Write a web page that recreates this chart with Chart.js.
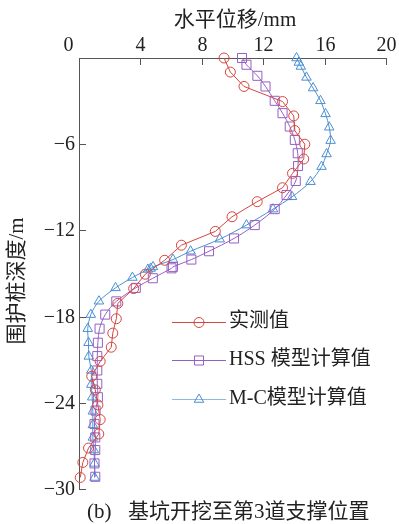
<!DOCTYPE html>
<html>
<head>
<meta charset="utf-8">
<script src="https://cdn.jsdelivr.net/npm/chart.js@4.4.1/dist/chart.umd.min.js"></script>
<style>
  html, body { margin: 0; padding: 0; background: #fff; }
</style>
</head>
<body>
<canvas id="chart" width="399" height="524"></canvas>
<script>
// depth (m, negative downward) and horizontal displacement (mm)
const measuredDepth = [0, -0.98, -1.98, -3.03, -4.03, -5.05, -6.0, -7.03, -8.03, -9.03, -10.0, -11.05, -12.07, -13.03, -14.08, -15.05, -16.05, -17.08, -18.15, -19.15, -20.13, -21.12, -22.15, -23.1, -24.15, -25.17, -26.17, -27.15, -28.15, -29.2];
const measuredDisp = [9.45, 9.86, 10.75, 13.26, 13.99, 14.06, 14.71, 14.64, 13.91, 13.26, 11.61, 9.97, 8.88, 6.67, 5.58, 4.32, 3.56, 2.53, 2.43, 2.2, 2.1, 1.38, 0.83, 1.06, 1.23, 1.38, 1.29, 0.62, 0.25, 0.08];

const hssDepth = [0, -0.47, -1.24, -1.98, -2.98, -3.84, -4.77, -5.70, -6.63, -7.52, -8.56, -9.54, -10.52, -11.63, -12.56, -13.45, -14.03, -14.54, -14.64, -15.33, -16.0, -16.94, -17.86, -18.84, -19.82, -20.75, -21.75, -22.68, -23.61, -24.54, -25.47, -26.41, -27.29, -28.22, -29.15];
const hssDisp = [10.62, 10.91, 11.62, 12.15, 12.75, 13.26, 13.73, 14.06, 14.25, 14.27, 14.12, 13.52, 12.75, 11.45, 10.1, 8.47, 7.32, 6.12, 6.03, 4.81, 3.7, 2.43, 1.71, 1.34, 1.23, 1.19, 1.19, 1.19, 1.23, 1.08, 1.01, 1.06, 1.06, 1.01, 1.06];

const mcDepth = [0, -0.31, -0.59, -1.35, -2.09, -2.98, -3.89, -4.82, -5.75, -6.68, -7.56, -8.61, -9.66, -10.52, -11.63, -12.61, -13.45, -14.03, -14.54, -14.65, -14.72, -15.28, -16.0, -16.93, -17.86, -18.84, -19.82, -20.77, -21.75, -22.73, -23.61, -24.59, -25.54, -26.41, -27.29, -28.22, -29.2];
const mcDisp = [14.17, 14.32, 14.45, 14.82, 15.25, 15.73, 16.06, 16.3, 16.39, 16.13, 15.8, 15.08, 13.88, 12.64, 10.91, 9.17, 7.27, 6.12, 4.82, 4.67, 4.49, 3.48, 2.38, 1.3, 0.77, 0.57, 0.62, 0.64, 0.8, 0.8, 0.86, 0.9, 0.9, 0.9, 0.97, 1.01, 1.01];

const seriesNames = ['实测值', 'HSS 模型计算值', 'M-C模型计算值'];
const xTicks = [0, 4, 8, 12, 16, 20];
const yTicks = [0, -6, -12, -18, -24, -30];

const FONT = '"Liberation Serif", "Times New Roman", "Noto Sans CJK SC", serif';
const RED = '#d6453f';
const PURPLE = '#9560c4';
const BLUE = '#4a8fd2';

function toPoints(xs, ys) {
  return xs.map((x, i) => ({ x: x, y: ys[i] }));
}

// axis labels, inward tick marks, legend and caption
const decorations = {
  id: 'decorations',
  afterDraw(chart) {
    const ctx = chart.ctx;
    const xs = chart.scales.x;
    const ys = chart.scales.y;
    const area = chart.chartArea;
    ctx.save();
    ctx.strokeStyle = '#555';
    ctx.lineWidth = 1;
    ctx.fillStyle = '#222';
    ctx.font = '20px ' + FONT;

    // top axis ticks and labels
    ctx.textAlign = 'center';
    ctx.textBaseline = 'middle';
    xTicks.forEach(v => {
      const px = Math.round(xs.getPixelForValue(v)) + 0.5;
      if (v !== 0) {
        ctx.beginPath();
        ctx.moveTo(px, area.top);
        ctx.lineTo(px, area.top + 7);
        ctx.stroke();
      }
      ctx.fillText(String(v), v === 0 ? px - 11 : px, 46);
    });

    // left axis ticks and labels
    ctx.textAlign = 'right';
    yTicks.forEach(v => {
      const py = Math.round(ys.getPixelForValue(v)) + 0.5;
      ctx.beginPath();
      ctx.moveTo(area.left, py);
      ctx.lineTo(area.left + 7, py);
      ctx.stroke();
      if (v !== 0) ctx.fillText('\u2212' + String(-v), 75, py);
    });

    // axis titles
    ctx.font = '21px ' + FONT;
    ctx.textAlign = 'center';
    ctx.fillText('水平位移/mm', 235, 20);
    ctx.save();
    ctx.translate(17, 281);
    ctx.rotate(-Math.PI / 2);
    ctx.fillText('围护桩深度/m', 0, 0);
    ctx.restore();

    // caption
    ctx.textAlign = 'left';
    ctx.fillText('(b)', 87, 512);
    ctx.fillText('基坑开挖至第3道支撑位置', 128, 512);

    // legend
    ctx.font = '20px ' + FONT;
    const rows = [322, 360, 399];
    const lineColors = [RED, PURPLE, '#8bb9e2'];
    chart.data.datasets.forEach((ds, i) => {
      const y = rows[i] + 0.5;
      ctx.strokeStyle = lineColors[i];
      ctx.lineWidth = 1.2;
      ctx.beginPath();
      ctx.moveTo(172, y);
      ctx.lineTo(226, y);
      ctx.stroke();
      ctx.strokeStyle = ds.borderColor;
      ctx.fillStyle = 'rgba(0,0,0,0)';
      ctx.lineWidth = 1;
      Chart.helpers.drawPoint(ctx, {
        pointStyle: ds.pointStyle,
        radius: ds.pointRadius,
        borderWidth: 1
      }, 199, y);
      ctx.fillStyle = '#222';
      ctx.fillText(seriesNames[i], 229, rows[i]);
    });
    ctx.restore();
  }
};

const chart = new Chart(document.getElementById('chart'), {
  type: 'scatter',
  data: {
    datasets: [
      {
        label: seriesNames[0],
        data: toPoints(measuredDisp, measuredDepth),
        showLine: true,
        borderColor: RED,
        backgroundColor: 'rgba(0,0,0,0)',
        borderWidth: 1,
        pointStyle: 'circle',
        pointRadius: 5,
        pointBorderWidth: 1,
        tension: 0,
        clip: false
      },
      {
        label: seriesNames[1],
        data: toPoints(hssDisp, hssDepth),
        showLine: true,
        borderColor: PURPLE,
        backgroundColor: 'rgba(0,0,0,0)',
        borderWidth: 1,
        pointStyle: 'rect',
        pointRadius: 6.4,
        pointBorderWidth: 1,
        tension: 0.3,
        clip: false
      },
      {
        label: seriesNames[2],
        data: toPoints(mcDisp, mcDepth),
        showLine: true,
        borderColor: BLUE,
        backgroundColor: 'rgba(0,0,0,0)',
        borderWidth: 1,
        pointStyle: 'triangle',
        pointRadius: 5.5,
        pointBorderWidth: 1,
        tension: 0.3,
        clip: false
      }
    ]
  },
  options: {
    responsive: false,
    animation: false,
    devicePixelRatio: 1,
    layout: { padding: { left: 79, right: 13, top: 58, bottom: 35 } },
    plugins: {
      legend: { display: false },
      tooltip: { enabled: false },
      title: { display: false }
    },
    scales: {
      x: {
        type: 'linear',
        position: 'top',
        min: 0,
        max: 20,
        ticks: { display: false, stepSize: 4 },
        grid: { display: false, drawTicks: false },
        border: { display: true, color: '#555', width: 1 }
      },
      y: {
        type: 'linear',
        min: -30,
        max: 0,
        ticks: { display: false, stepSize: 6 },
        grid: { display: false, drawTicks: false },
        border: { display: true, color: '#555', width: 1 }
      }
    }
  },
  plugins: [decorations]
});
</script>
</body>
</html>
